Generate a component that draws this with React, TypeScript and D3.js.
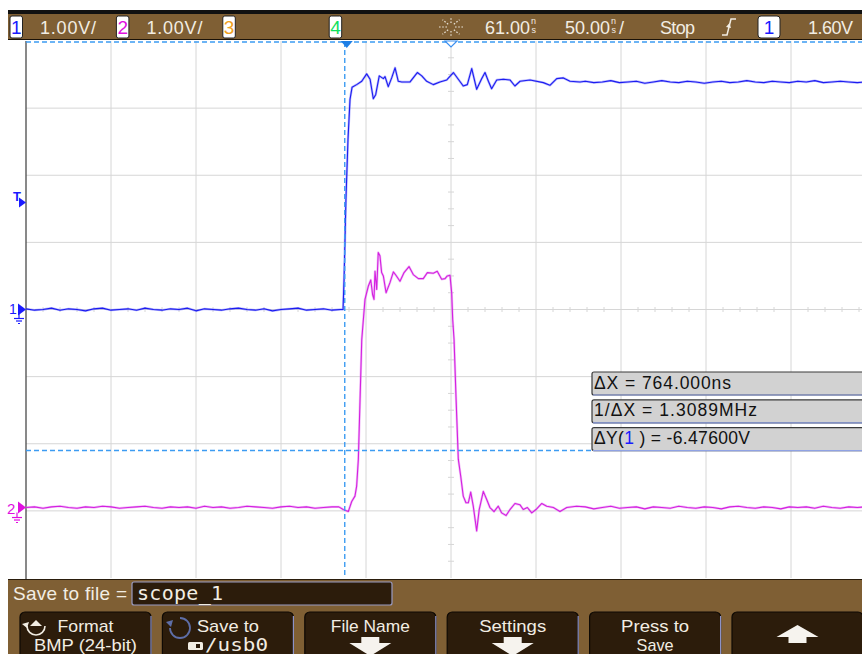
import React from "react";
import * as d3 from "d3";

// ---- acquisition settings ----
const timePerDiv = 50; // ns / div
const delayNs = 61; // horizontal position (ns at screen centre)
const voltsPerDiv = 1;
const ch1OffsetDiv = 0; // ground reference position, divisions from centre
const ch2OffsetDiv = -2.95;
const sampleStep = 5; // ns between stored samples in the flat stretches

// ---- channel 1 record (volts) ----
const ch1LeadStart = -189;
const ch1Lead = [
  0.01, -0.01, 0.0, 0.02, -0.01, 0.01, 0.0, -0.02, 0.01, 0.02, -0.01, 0.0, 0.01,
  -0.01, 0.02, 0.0, -0.01, 0.01, 0.0, 0.02, -0.02, 0.01, 0.0, -0.01, 0.01, 0.02,
  0.0, -0.01, 0.01, -0.02, 0.0, 0.01, 0.02, -0.01, 0.0, 0.01, -0.01, 0.0,
];
const ch1Edge: [number, number][] = [
  [-2.5, 0.0], [-1.9, 0.45], [-0.8, 1.64], [0.4, 2.53], [1.6, 3.13], [2.8, 3.31],
  [5.5, 3.35], [8.5, 3.4], [11.4, 3.51], [13.4, 3.43], [15.3, 3.14], [16.7, 3.2],
  [18.8, 3.48], [21.2, 3.44], [22.2, 3.47], [24.1, 3.32], [26.1, 3.45], [28.1, 3.6],
  [30.0, 3.4], [32.0, 3.39], [36.9, 3.39], [41.2, 3.53], [43.8, 3.48], [46.7, 3.4],
  [50.6, 3.35], [54.5, 3.39], [58.5, 3.42], [62.4, 3.53], [65.3, 3.43], [68.2, 3.33],
  [70.6, 3.35], [73.2, 3.59], [76.1, 3.28], [79.1, 3.44], [81.0, 3.53], [83.0, 3.4],
  [84.9, 3.29], [87.9, 3.42], [91.8, 3.43], [95.7, 3.42], [98.6, 3.33], [101.6, 3.4],
  [107.5, 3.42], [115.3, 3.38], [119.2, 3.34], [123.2, 3.44], [127.1, 3.45],
  [131.0, 3.4], [136.9, 3.39],
];
const ch1TailStart = 140;
const ch1Tail = [
  3.4, 3.38, 3.39, 3.41, 3.38, 3.39, 3.4, 3.37, 3.39, 3.41, 3.39, 3.38, 3.4, 3.39,
  3.37, 3.39, 3.4, 3.38, 3.39, 3.41, 3.39, 3.38, 3.4, 3.39, 3.38, 3.4, 3.39, 3.41,
  3.38, 3.39, 3.4, 3.39, 3.38, 3.39, 3.4,
];

// ---- channel 2 record (volts) ----
const ch2LeadStart = -189;
const ch2Lead = [
  0.0, 0.01, -0.01, 0.01, 0.02, 0.0, -0.01, 0.01, 0.0, 0.02, 0.01, -0.01, 0.0, 0.01,
  0.02, 0.0, -0.01, 0.01, 0.0, 0.01, -0.01, 0.02, 0.0, 0.01, -0.01, 0.0, 0.02, 0.01,
  0.0, -0.01, 0.01, 0.02, 0.0, 0.01, -0.01, 0.0, 0.01,
];
const ch2Edge: [number, number][] = [
  [-5.0, 0.01], [-2.4, -0.03], [0.6, -0.06], [2.6, 0.09], [4.5, 0.17], [5.5, 0.32],
  [6.5, 0.72], [8.5, 2.5], [10.4, 3.1], [12.4, 3.3], [13.8, 3.39], [14.9, 3.17],
  [15.7, 3.1], [16.3, 3.52], [17.3, 3.25], [18.2, 3.8], [19.2, 3.75], [20.2, 3.5],
  [21.2, 3.45], [22.8, 3.2], [25.1, 3.35], [27.1, 3.51], [28.6, 3.46], [31.0, 3.37],
  [33.4, 3.5], [36.3, 3.59], [38.8, 3.47], [41.8, 3.41], [44.7, 3.41], [47.1, 3.5],
  [50.6, 3.49], [52.9, 3.52], [55.5, 3.4], [57.5, 3.41], [58.8, 3.45], [60.4, 3.46],
  [61.4, 3.2], [62.0, 2.8], [62.8, 2.5], [64.0, 1.61], [65.3, 0.72], [66.7, 0.47],
  [68.2, 0.17], [69.8, 0.07], [71.2, 0.07], [72.6, 0.23], [74.1, 0.02], [76.1, -0.35],
  [77.6, -0.03], [80.0, 0.24], [82.0, 0.12], [83.9, 0.0], [86.3, -0.06], [88.8, 0.02],
  [90.8, -0.08], [93.4, -0.12], [95.7, -0.03], [98.6, 0.06], [101.6, 0.04],
  [103.5, -0.03], [105.9, 0.0], [108.5, -0.08], [111.0, -0.03], [114.4, 0.06],
  [117.3, 0.02], [121.2, 0.0], [125.1, -0.06], [129.1, 0.0], [134.9, 0.02],
];
const ch2TailStart = 140;
const ch2Tail = [
  0.01, -0.02, 0.0, 0.02, -0.01, 0.0, 0.01, -0.02, 0.01, 0.0, -0.01, 0.02, 0.0, -0.01,
  0.01, 0.0, -0.02, 0.01, 0.02, 0.0, -0.01, 0.01, 0.0, -0.02, 0.01, 0.0, 0.01, -0.01,
  0.02, 0.0, -0.01, 0.01, 0.0, 0.01, -0.01,
];

// ---- cursors ----
const cursorX1Ns = -1.5;
const cursorY2Div = -2.1;

// ---- status line and readouts ----
const headerChannels = [
  { id: "1", color: "#1a1aff", scale: "1.00V/" },
  { id: "2", color: "#e010e0", scale: "1.00V/" },
  { id: "3", color: "#f0a020", scale: "" },
  { id: "4", color: "#10e060", scale: "" },
];
const measurements = [
  { label: "\u0394X = 764.000ns", width: 137 },
  { label: "1/\u0394X = 1.3089MHz", width: 163 },
  { label: "\u0394Y(1 ) = -6.47600V", width: 156 },
];
const softKeys = [
  { top: "Format", topW: 56, bottom: "BMP (24-bit)", bottomW: 103 },
  { top: "Save to", topW: 62, bottom: "/usb0", bottomW: 63 },
  { top: "File Name", topW: 79, bottom: "", bottomW: 0 },
  { top: "Settings", topW: 67, bottom: "", bottomW: 0 },
  { top: "Press to", topW: 68, bottom: "Save", bottomW: 37 },
  { top: "", topW: 0, bottom: "", bottomW: 0 },
];

const FONT = "'Liberation Sans', Arial, sans-serif";
const MONO = "'DejaVu Sans Mono', 'Liberation Mono', monospace";

function assemble(leadStart: number, lead: number[], edge: [number, number][], tailStart: number, tail: number[]) {
  const pts: [number, number][] = [];
  lead.forEach((v, i) => pts.push([leadStart + i * sampleStep, v]));
  edge.forEach((p) => pts.push(p));
  tail.forEach((v, i) => pts.push([tailStart + i * sampleStep, v]));
  return pts;
}

export default function App() {
  const W = 862;
  const H = 654;
  const left = 26;
  const right = 876;
  const top = 41;
  const bottom = 578;

  const x = d3
    .scaleLinear()
    .domain([delayNs - 5 * timePerDiv, delayNs + 5 * timePerDiv])
    .range([left, right]);
  const yDiv = d3.scaleLinear().domain([-4, 4]).range([bottom, top]);
  const yCh = (offset: number) =>
    d3
      .scaleLinear()
      .domain([0, voltsPerDiv])
      .range([yDiv(offset), yDiv(offset + 1)]);
  const y1 = yCh(ch1OffsetDiv);
  const y2 = yCh(ch2OffsetDiv);

  const ch1 = assemble(ch1LeadStart, ch1Lead, ch1Edge, ch1TailStart, ch1Tail);
  const ch2 = assemble(ch2LeadStart, ch2Lead, ch2Edge, ch2TailStart, ch2Tail);
  const line1 = d3.line<[number, number]>().x((d) => x(d[0])).y((d) => y1(d[1]));
  const line2 = d3.line<[number, number]>().x((d) => x(d[0])).y((d) => y2(d[1]));

  const vDivs = d3.range(1, 10).map((i) => x(delayNs - 5 * timePerDiv + i * timePerDiv));
  const hDivs = d3.range(-3, 4).map((i) => yDiv(i));
  const cx = x(delayNs);
  const cy = yDiv(0);
  const hMinor = d3.range(-25, 26).filter((i) => i % 5 !== 0).map((i) => x(delayNs + (i * timePerDiv) / 5));
  const vMinor = d3.range(-16, 17).filter((i) => i % 4 !== 0).map((i) => yDiv(i / 4));

  const curX = x(cursorX1Ns);
  const curY = yDiv(cursorY2Div);
  const brown = "#7f5f34";
  const keyFill = "#2c1c0b";
  const cursorBlue = "#3d9cf2";
  const ink = "#f2ede3";

  const ground = (gx: number, gy: number, color: string) => (
    <g stroke={color} strokeWidth={1.2}>
      <line x1={gx} y1={gy} x2={gx} y2={gy + 5} />
      <line x1={gx - 5} y1={gy + 5} x2={gx + 5} y2={gy + 5} />
      <line x1={gx - 3} y1={gy + 7.5} x2={gx + 3} y2={gy + 7.5} />
      <line x1={gx - 1} y1={gy + 10} x2={gx + 1} y2={gy + 10} />
    </g>
  );

  const keyX = (i: number) => 20 + i * 142.4;

  return (
    <svg
      width={W}
      height={H}
      style={{ position: "absolute", left: 0, top: 0, background: "#fff" }}
      fontFamily={FONT}
    >
      <defs>
        <clipPath id="plotClip">
          <rect x={left} y={top} width={right - left} height={bottom - top} />
        </clipPath>
      </defs>

      {/* graticule */}
      <g stroke="#d6d6d6" strokeWidth={1}>
        {vDivs.map((vx, i) => (
          <line key={"v" + i} x1={vx} y1={top} x2={vx} y2={bottom} />
        ))}
        {hDivs.map((hy, i) => (
          <line key={"h" + i} x1={left} y1={hy} x2={W} y2={hy} />
        ))}
        {hMinor.map((mx, i) => (
          <line key={"hm" + i} x1={mx} y1={cy - 2.5} x2={mx} y2={cy + 2.5} />
        ))}
        {vMinor.map((my, i) => (
          <line key={"vm" + i} x1={cx - 3} y1={my} x2={cx + 3} y2={my} />
        ))}
      </g>
      <line x1={left} y1={top} x2={left} y2={bottom + 2} stroke="#4a4a4a" strokeWidth={1.3} />

      {/* traces */}
      <g clipPath="url(#plotClip)" fill="none" strokeLinejoin="round">
        <path d={line2(ch2) ?? ""} stroke="#e070f0" strokeWidth={2.4} strokeOpacity={0.45} />
        <path d={line2(ch2) ?? ""} stroke="#d420e0" strokeWidth={1.1} />
        <path d={line1(ch1) ?? ""} stroke="#6a6aff" strokeWidth={2.4} strokeOpacity={0.45} />
        <path d={line1(ch1) ?? ""} stroke="#1c1cf0" strokeWidth={1.1} />
      </g>

      {/* cursors */}
      <g stroke={cursorBlue} strokeWidth={1.4} strokeDasharray="5,3">
        <line x1={left} y1={top + 1} x2={W} y2={top + 1} />
        <line x1={curX} y1={top + 1} x2={curX} y2={bottom} />
        <line x1={left} y1={curY} x2={592} y2={curY} />
      </g>
      <path d={`M${curX - 4},${top} L${curX + 8},${top} L${curX + 2},${top + 7} Z`} fill="#1e7fe6" />
      <path d={`M${cx - 6},${top} L${cx + 6},${top} L${cx},${top + 6} Z`} fill="#fff" stroke="#3a8ff0" strokeWidth={1.2} />

      {/* channel reference markers */}
      <g fill="#1a1aff">
        <text x={13} y={201} fontSize={13} fontWeight="bold">T</text>
        <path d="M19,197.5 L26,202.5 L19,207.5 Z" />
        <text x={9} y={314} fontSize={14}>1</text>
        <path d={`M18,${y1(0) - 6} L26,${y1(0)} L18,${y1(0) + 6} Z`} />
      </g>
      {ground(19, y1(0) + 4, "#1a1aff")}
      <g fill="#e010e0">
        <text x={7} y={514} fontSize={15}>2</text>
        <path d={`M18,${y2(0) - 6} L26,${y2(0)} L18,${y2(0) + 6} Z`} />
      </g>
      {ground(17, y2(0) + 5, "#e010e0")}

      {/* cursor readouts */}
      {measurements.map((m, i) => {
        const by = 372 + i * 27.8;
        return (
          <g key={"m" + i}>
            <rect x={592} y={by} width={280} height={23} rx={2} fill="#d2d2d2" stroke="#3a3a3a" strokeWidth={1.2} />
            <line x1={593} y1={by + 23} x2={W} y2={by + 23} stroke="#8fa2e4" strokeWidth={1.2} />
            {i === 2 ? (
              <text x={594} y={by + 16.5} fontSize={17.5} fill="#111" textLength={m.width} lengthAdjust="spacing">
                {"\u0394Y("}
                <tspan fill="#1a1aff">1</tspan>
                {" ) = -6.47600V"}
              </text>
            ) : (
              <text x={594} y={by + 16.5} fontSize={17.5} fill="#111" textLength={m.width} lengthAdjust="spacing">
                {m.label}
              </text>
            )}
          </g>
        );
      })}

      {/* status line */}
      <rect x={8} y={10} width={W - 8} height={4} fill="#111" />
      <rect x={8} y={14} width={W - 8} height={25.5} fill={brown} />
      <line x1={8} y1={39.5} x2={W} y2={39.5} stroke="#1a1208" strokeWidth={1} />
      {headerChannels.map((c, i) => {
        const bx = 10 + i * 106.4;
        return (
          <g key={"hc" + i}>
            <rect x={bx} y={16} width={12.5} height={22} rx={2} fill="#fff" stroke="#222" strokeWidth={1} />
            <text x={bx + 6.3} y={34} fontSize={19} fill={c.color} textAnchor="middle">
              {c.id}
            </text>
            {c.scale && (
              <text x={bx + 30} y={33.5} fontSize={18} fill={ink} textLength={56} lengthAdjust="spacing">
                {c.scale}
              </text>
            )}
          </g>
        );
      })}
      {/* acquisition indicator */}
      <g stroke="#e8e2d6" strokeWidth={1.2} strokeDasharray="1.6,1.6">
        {d3.range(8).map((k) => {
          const a = (k * Math.PI) / 4;
          return (
            <line
              key={"ray" + k}
              x1={451 + 4 * Math.cos(a)}
              y1={27 + 4 * Math.sin(a)}
              x2={451 + 12 * Math.cos(a)}
              y2={27 + 12 * Math.sin(a) * 0.85}
            />
          );
        })}
      </g>
      <g fill={ink}>
        <text x={485} y={33.5} fontSize={18} textLength={45} lengthAdjust="spacing">61.00</text>
        <text x={531} y={24} fontSize={9}>n</text>
        <text x={531.5} y={33} fontSize={9}>s</text>
        <text x={565} y={33.5} fontSize={18} textLength={45} lengthAdjust="spacing">50.00</text>
        <text x={611} y={24} fontSize={9}>n</text>
        <text x={611.5} y={33} fontSize={9}>s</text>
        <text x={619} y={33.5} fontSize={18}>/</text>
        <text x={660} y={33.5} fontSize={18} textLength={35} lengthAdjust="spacing">Stop</text>
        <text x={808} y={33.5} fontSize={18} textLength={45} lengthAdjust="spacing">1.60V</text>
      </g>
      <path d="M722,35 L727,35 L731,19 L736,19" fill="none" stroke={ink} strokeWidth={1.5} />
      <path d="M726,27 L729.5,23 L731,28 Z" fill={ink} />
      <rect x={758} y={16} width={22} height={22} rx={3} fill="#fff" stroke="#222" strokeWidth={1} />
      <text x={769} y={34} fontSize={19} fill="#1a1aff" textAnchor="middle">1</text>

      {/* softkey area */}
      <rect x={8} y={579} width={W - 8} height={H - 579} fill={brown} />
      <line x1={8} y1={579.5} x2={W} y2={579.5} stroke="#2a1d0c" strokeWidth={1} />
      <text x={13} y={600} fontSize={19} fill={ink} textLength={114} lengthAdjust="spacing">
        Save to file =
      </text>
      <rect x={132} y={582} width={260} height={23} rx={2} fill={keyFill} stroke="#9a9cc4" strokeWidth={1.2} />
      <text x={137} y={600} fontSize={20} fill={ink} fontFamily={MONO} textLength={86} lengthAdjust="spacing">
        scope_1
      </text>
      {softKeys.map((k, i) => {
        const kx = keyX(i);
        const mid = kx + 65.5;
        return (
          <g key={"sk" + i}>
            <rect x={kx} y={612} width={131} height={60} rx={5} fill={keyFill} stroke="#0e0904" strokeWidth={1.2} />
            <line x1={kx + 131} y1={616} x2={kx + 131} y2={H} stroke="#8c92c8" strokeWidth={1.2} />
            {k.top && (
              <text
                x={mid - k.topW / 2}
                y={631.5}
                fontSize={17}
                fill={ink}
                textLength={k.topW}
                lengthAdjust="spacingAndGlyphs"
              >
                {k.top}
              </text>
            )}
            {k.bottom && i !== 1 && (
              <text
                x={mid - k.bottomW / 2}
                y={650.5}
                fontSize={17}
                fill={ink}
                textLength={k.bottomW}
                lengthAdjust="spacingAndGlyphs"
              >
                {k.bottom}
              </text>
            )}
          </g>
        );
      })}
      {/* Format key icon */}
      <path d="M27,626 A8,8 0 1 0 45,626" fill="none" stroke={ink} strokeWidth={1.6} />
      <path d="M30,626 L36,620 L42,626 Z" fill={ink} />
      <path d="M22,624 L27,628 L29,622 Z" fill={ink} />
      {/* Save-to key icon */}
      <path d="M180,618 A10,10 0 1 1 170,628" fill="none" stroke="#5e6ea8" strokeWidth={1.8} />
      <path d="M166,622 L173,620 L171,627 Z" fill="#5e6ea8" />
      <rect x={188} y={642} width={15} height={8} rx={1.5} fill={ink} />
      <rect x={196} y={644} width={4} height={4} fill={keyFill} />
      <text x={205} y={650.5} fontSize={18} fill={ink} fontFamily={MONO} textLength={63} lengthAdjust="spacingAndGlyphs">
        /usb0
      </text>
      {/* arrows */}
      {[2, 3].map((i) => {
        const m = keyX(i) + 65.5;
        return (
          <path
            key={"da" + i}
            d={`M${m - 9},637 L${m + 9},637 L${m + 9},643 L${m + 21},643 L${m},656 L${m - 21},643 L${m - 9},643 Z`}
            fill="#f6f3ee"
          />
        );
      })}
      {(() => {
        const m = keyX(5) + 65.5;
        return (
          <path
            d={`M${m},625 L${m + 21},637 L${m + 9},637 L${m + 9},643 L${m - 9},643 L${m - 9},637 L${m - 21},637 Z`}
            fill="#f6f3ee"
          />
        );
      })()}
    </svg>
  );
}
